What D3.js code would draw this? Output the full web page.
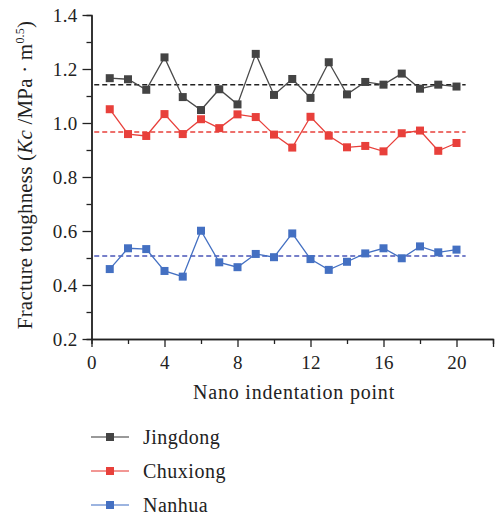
<!DOCTYPE html>
<html><head><meta charset="utf-8">
<script src="https://cdn.jsdelivr.net/npm/d3@7"></script>
<style>body{margin:0;background:#fff}svg{display:block}text{font-family:"Liberation Serif","DejaVu Serif",serif;fill:#222}</style>
</head><body><svg id="c" width="495" height="515"></svg>
<script>
const points = d3.range(1, 21);
const jingdong = [1.166,1.162,1.123,1.243,1.096,1.048,1.125,1.069,1.256,1.104,1.163,1.093,1.225,1.106,1.152,1.142,1.183,1.127,1.142,1.135];
const chuxiong = [1.051,0.959,0.952,1.033,0.959,1.014,0.981,1.032,1.022,0.957,0.909,1.023,0.953,0.910,0.915,0.895,0.962,0.972,0.897,0.926];
const nanhua = [0.459,0.536,0.533,0.452,0.431,0.601,0.484,0.466,0.515,0.503,0.591,0.496,0.456,0.486,0.517,0.536,0.499,0.543,0.521,0.531];
const means = [1.142, 0.967, 0.507];
const seriesNames = ["Jingdong","Chuxiong","Nanhua"];
const lineColors = ["#4a4a4a","#e8403b","#4470c2"];
const markColors = ["#444444","#e8403b","#4470c2"];
const legendLineColors = ["#777777","#ee7470","#7b9bd6"];
const dashColors = ["#222222","#e8403b","#4a55b8"];
const xTicks = [0,4,8,12,16,20];
const yTicks = [0.2,0.4,0.6,0.8,1.0,1.2,1.4];

const svg = d3.select("#c");
const x = d3.scaleLinear().domain([0,22]).range([91.5,493]);
const y = d3.scaleLinear().domain([0.2,1.4]).range([339,15]);

const gx = svg.append("g").attr("transform","translate(0,339)")
  .call(d3.axisBottom(x).tickValues(d3.range(2,22,4)).tickSize(5).tickFormat(""));
const gx2 = svg.append("g").attr("transform","translate(0,339)")
  .call(d3.axisBottom(x).tickValues([0,4,8,12,16,20,22]).tickSize(8).tickSizeOuter(0)
  .tickFormat(d=> xTicks.includes(d)? d3.format("d")(d):""));
const gy = svg.append("g").attr("transform","translate(91.5,0)")
  .call(d3.axisLeft(y).tickValues(d3.range(0.3,1.4,0.2)).tickSize(5).tickFormat(""));
const gy2 = svg.append("g").attr("transform","translate(91.5,0)")
  .call(d3.axisLeft(y).tickValues(yTicks).tickSize(9).tickSizeOuter(0).tickFormat(d3.format(".1f")));
svg.selectAll(".domain").attr("stroke","#222").attr("stroke-width",1.4);
svg.selectAll(".tick line").attr("stroke","#222").attr("stroke-width",1.3);
svg.selectAll("g").attr("font-family",null).attr("font-size",null);
gx2.selectAll(".tick text").attr("font-size",19).attr("letter-spacing",0.3).attr("y",30).attr("dy",0);
gy2.selectAll(".tick text").attr("font-size",19).attr("letter-spacing",0.3).attr("x",-14).attr("dy","0.36em");

// axis titles
svg.append("text").attr("x",294).attr("y",399).attr("text-anchor","middle").attr("font-size",20).attr("letter-spacing",0.8).text("Nano indentation point");
const yl = svg.append("text").attr("transform","translate(32,175) rotate(-90)").attr("text-anchor","middle").attr("font-size",21).attr("letter-spacing",0.2);
yl.append("tspan").text("Fracture toughness (");
yl.append("tspan").attr("font-style","italic").text("Kc");
yl.append("tspan").text(" /MPa · m");
yl.append("tspan").attr("font-size",12).attr("dy",-8).text("0.5");
yl.append("tspan").attr("dy",8).text(")");

const data = [jingdong, chuxiong, nanhua];
const line = d3.line().x((d,i)=>x(points[i])).y(d=>y(d));
data.forEach((vals,k)=>{
  svg.append("line").attr("x1",x(0.15)).attr("x2",x(20.5)).attr("y1",y(means[k])).attr("y2",y(means[k]))
    .attr("stroke",dashColors[k]).attr("stroke-width",1.5).attr("stroke-dasharray","5,3");
  svg.append("path").attr("d",line(vals)).attr("fill","none").attr("stroke",lineColors[k]).attr("stroke-width",1.3);
  svg.selectAll(null).data(vals).enter().append("rect")
    .attr("x",(d,i)=>x(points[i])-4).attr("y",d=>y(d)-4).attr("width",8).attr("height",8)
    .attr("fill",markColors[k]);
});

// legend
const ly = [437,471,505];
seriesNames.forEach((n,k)=>{
  const g = svg.append("g");
  g.append("line").attr("x1",91).attr("x2",129).attr("y1",ly[k]).attr("y2",ly[k]).attr("stroke",legendLineColors[k]).attr("stroke-width",1.3);
  g.append("rect").attr("x",106).attr("y",ly[k]-4).attr("width",8).attr("height",8).attr("fill",markColors[k]);
  g.append("text").attr("x",143).attr("y",ly[k]+7).attr("font-size",20).attr("letter-spacing",0.5).text(n);
});
</script></body></html>
